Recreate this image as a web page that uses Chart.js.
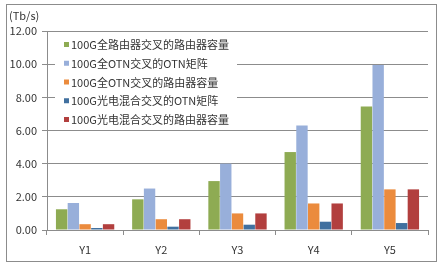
<!DOCTYPE html>
<html lang="zh">
<head>
    <meta charset="UTF-8">
    <title>100G 交叉容量</title>
    <script src="https://cdn.jsdelivr.net/npm/chart.js@4/dist/chart.umd.min.js"></script>
    <style>
        html, body { margin: 0; padding: 0; background: #fff; }
        .wrap { width: 441px; height: 265px; position: relative; }
    </style>
</head>
<body>
<div class="wrap"><canvas id="c" width="441" height="265"></canvas></div>
<script>
    // categories and series values (Tb/s)
    const categories = ['Y1', 'Y2', 'Y3', 'Y4', 'Y5'];
    const seriesNames = [
        '100G全路由器交叉的路由器容量',
        '100G全OTN交叉的OTN矩阵',
        '100G全OTN交叉的路由器容量',
        '100G光电混合交叉的OTN矩阵',
        '100G光电混合交叉的路由器容量'
    ];
    const routerOnly = [1.25, 1.85, 2.95, 4.7, 7.45];
    const otnMatrix = [1.63, 2.5, 4.0, 6.3, 9.95];
    const otnRouter = [0.35, 0.65, 1.0, 1.6, 2.45];
    const hybridOtn = [0.12, 0.2, 0.32, 0.5, 0.42];
    const hybridRouter = [0.35, 0.65, 1.0, 1.6, 2.45];
    const yTicks = [0, 2, 4, 6, 8, 10, 12];

    const colors = ['#8EAB53', '#98AFDA', '#EB8B3D', '#41709F', '#B23F3E'];
    const font = '"Noto Sans CJK SC", "DejaVu Sans", sans-serif';

    // box round the whole picture + legend inside the plot
    const decor = {
        id: 'decor',
        afterDraw(chart) {
            const ctx = chart.ctx;
            ctx.save();
            ctx.strokeStyle = '#8c8c8c';
            ctx.lineWidth = 1;
            ctx.strokeRect(6.5, 4.5, 430, 257);

            ctx.fillStyle = '#333';
            ctx.font = '11px ' + font;
            ctx.textBaseline = 'middle';
            ctx.textAlign = 'left';
            ctx.fillText('(Tb/s)', 9, 16);

            ctx.fillStyle = '#fff';
            ctx.fillRect(55, 34, 182, 96);
            seriesNames.forEach((name, i) => {
                const y = 45 + i * 18.75;
                ctx.fillStyle = colors[i];
                ctx.fillRect(64, y - 3, 5, 5);
                ctx.fillStyle = '#333';
                ctx.fillText(name, 71, y);
            });
            ctx.restore();
        }
    };

    const data = [routerOnly, otnMatrix, otnRouter, hybridOtn, hybridRouter];

    new Chart(document.getElementById('c'), {
        type: 'bar',
        data: {
            labels: categories,
            datasets: data.map((vals, i) => ({
                label: seriesNames[i],
                data: vals,
                backgroundColor: colors[i],
                borderWidth: 0
            }))
        },
        options: {
            responsive: false,
            animation: false,
            layout: { padding: { left: 0, right: 13, top: 31, bottom: 0 } },
            datasets: { bar: { categoryPercentage: 0.77, barPercentage: 0.97 } },
            plugins: { legend: { display: false }, tooltip: { enabled: false } },
            scales: {
                x: {
                    afterFit(s) { s.height = 35; },
                    grid: { display: true, drawOnChartArea: false, drawTicks: true, tickLength: 5, color: '#8c8c8c', offset: true },
                    border: { color: '#8c8c8c' },
                    ticks: { color: '#333', font: { family: font, size: 11 }, padding: 8 }
                },
                y: {
                    min: 0,
                    max: 12,
                    afterFit(s) { s.width = 47; },
                    afterBuildTicks(s) { s.ticks = yTicks.map(v => ({ value: v })); },
                    grid: { color: '#8c8c8c', tickLength: 5 },
                    border: { color: '#8c8c8c' },
                    ticks: {
                        color: '#333',
                        font: { family: font, size: 11 },
                        padding: 5,
                        callback: v => v.toFixed(2)
                    }
                }
            }
        },
        plugins: [decor]
    });
</script>
</body>
</html>
